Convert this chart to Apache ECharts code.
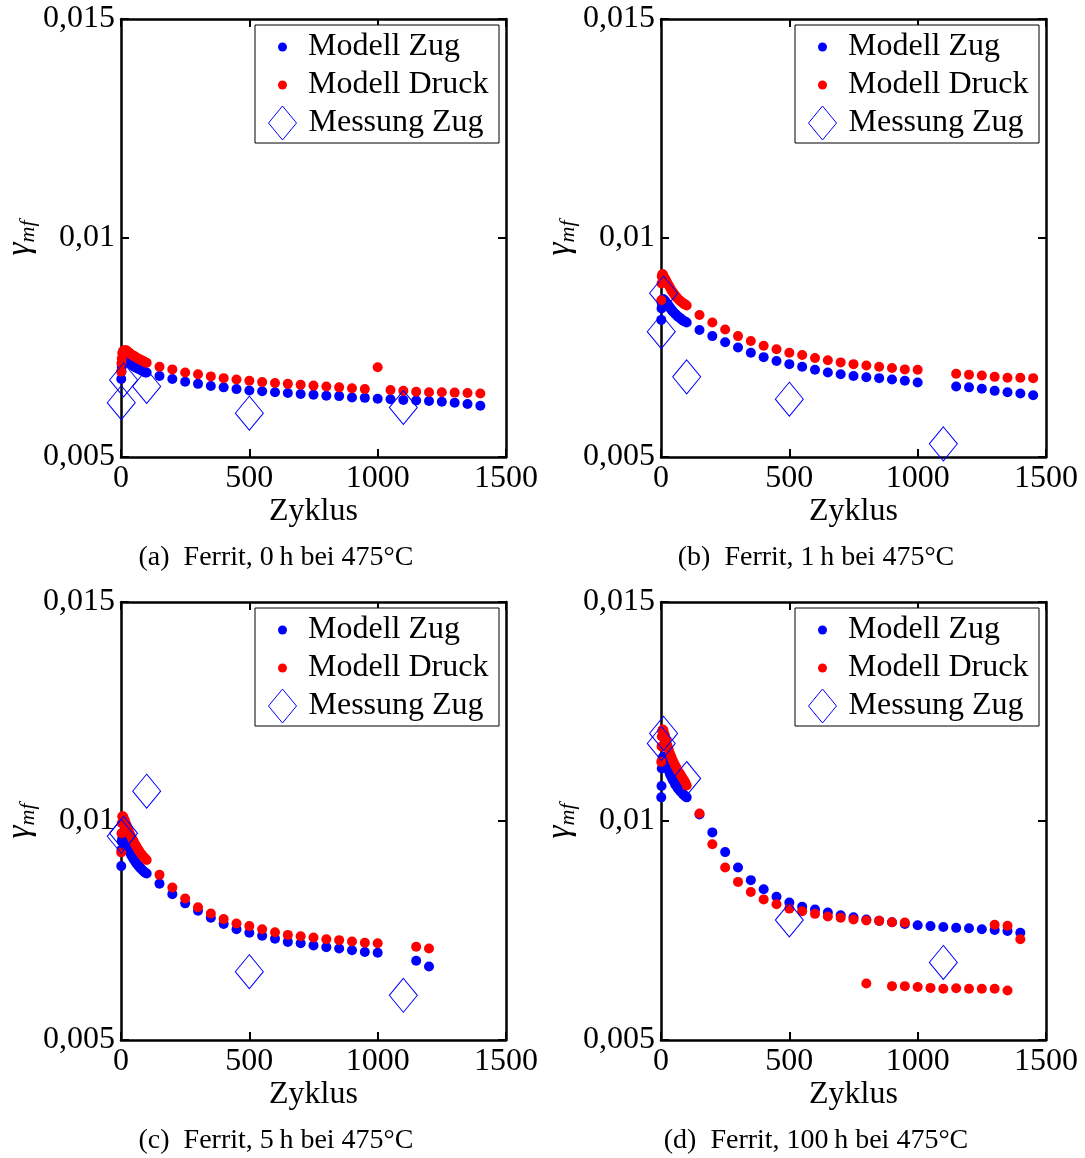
<!DOCTYPE html>
<html>
<head>
<meta charset="utf-8">
<script src="https://cdn.jsdelivr.net/npm/echarts@6.0.0/dist/echarts.min.js"></script>
<style>
  html, body { margin: 0; padding: 0; background: #fff; }
  #main { width: 1085px; height: 1158px; }
</style>
</head>
<body>
<div id="main"></div>
<script>
// ---- cycle numbers (Zyklus) ----
const earlyCycles = [1, 2, 3, 5, 7, 10, 15, 20, 25, 30, 35, 40, 45, 50, 55, 60, 65, 70, 75, 80, 85, 90, 95, 100];
const lateCycles = [150, 200, 250, 300, 350, 400, 450, 500, 550, 600, 650, 700, 750, 800, 850, 900, 950, 1000,
                    1050, 1100, 1150, 1200, 1250, 1300, 1350, 1400];
const lateCyclesB = [150, 200, 250, 300, 350, 400, 450, 500, 550, 600, 650, 700, 750, 800, 850, 900, 950, 1000,
                     1150, 1200, 1250, 1300, 1350, 1400, 1450];
const lateCyclesC = [150, 200, 250, 300, 350, 400, 450, 500, 550, 600, 650, 700, 750, 800, 850, 900, 950, 1000,
                     1150, 1200];
const messCycles = [1, 10, 100, 500, 1100];

// ---- (a) Ferrit, 0 h ----
const zugEarlyA = [0.00678, 0.00695, 0.00706, 0.00715, 0.00718, 0.00721, 0.00721, 0.00721, 0.00718, 0.00716, 0.00714, 0.00712,
                   0.00709, 0.00707, 0.00705, 0.00704, 0.00702, 0.00701, 0.00699, 0.00698, 0.00696, 0.00695, 0.00693, 0.00693];
const zugLateA = [0.00685, 0.00678, 0.00672, 0.00667, 0.00662, 0.00659, 0.00655, 0.00652, 0.00650, 0.00648, 0.00646, 0.00644, 0.00642,
                  0.00640, 0.00639, 0.00636, 0.00635, 0.00633, 0.00632, 0.00630, 0.00629, 0.00628, 0.00626, 0.00624, 0.00621, 0.00617];
const druckEarlyA = [0.00695, 0.00714, 0.00725, 0.00737, 0.00740, 0.00743, 0.00744, 0.00744, 0.00741, 0.00739, 0.00737, 0.00734,
                     0.00732, 0.00731, 0.00729, 0.00727, 0.00725, 0.00724, 0.00722, 0.00721, 0.00719, 0.00718, 0.00716, 0.00715];
const druckLateA = [0.00706, 0.00700, 0.00693, 0.00689, 0.00684, 0.00680, 0.00677, 0.00674, 0.00671, 0.00669, 0.00667, 0.00665, 0.00663,
                    0.00661, 0.00659, 0.00657, 0.00655, 0.00705, 0.00653, 0.00651, 0.00649, 0.00648, 0.00648, 0.00647, 0.00646, 0.00645];
const messA = [0.00624, 0.00676, 0.00661, 0.00600, 0.00613];

// ---- (b) Ferrit, 1 h ----
const zugEarlyB = [0.00813, 0.00839, 0.00851, 0.00858, 0.00860, 0.00860, 0.00857, 0.00853, 0.00849, 0.00845, 0.00841, 0.00837,
                   0.00833, 0.00830, 0.00827, 0.00824, 0.00821, 0.00819, 0.00817, 0.00814, 0.00812, 0.00810, 0.00809, 0.00807];
const zugLateB = [0.00790, 0.00776, 0.00762, 0.00750, 0.00738, 0.00728, 0.00719, 0.00712, 0.00706, 0.00699, 0.00693, 0.00689, 0.00685,
                  0.00682, 0.00680, 0.00677, 0.00674, 0.00670, 0.00661, 0.00659, 0.00656, 0.00651, 0.00648, 0.00645, 0.00641];
const druckEarlyB = [0.00858, 0.00896, 0.00912, 0.00917, 0.00917, 0.00913, 0.00908, 0.00903, 0.00897, 0.00892, 0.00887, 0.00881,
                     0.00877, 0.00873, 0.00869, 0.00865, 0.00862, 0.00859, 0.00856, 0.00854, 0.00852, 0.00849, 0.00848, 0.00846];
const druckLateB = [0.00824, 0.00807, 0.00791, 0.00776, 0.00765, 0.00754, 0.00746, 0.00738, 0.00733, 0.00726, 0.00721, 0.00716, 0.00712,
                    0.00709, 0.00706, 0.00703, 0.00700, 0.00699, 0.00690, 0.00688, 0.00686, 0.00683, 0.00681, 0.00681, 0.00680];
const messB = [0.00786, 0.00874, 0.00683, 0.00632, 0.00530];

// ---- (c) Ferrit, 5 h ----
const zugEarlyC = [0.00897, 0.00934, 0.00953, 0.00960, 0.00962, 0.00960, 0.00954, 0.00947, 0.00941, 0.00934, 0.00928, 0.00922,
                   0.00917, 0.00912, 0.00908, 0.00903, 0.00900, 0.00896, 0.00893, 0.00890, 0.00887, 0.00884, 0.00882, 0.00880];
const zugLateC = [0.00857, 0.00833, 0.00812, 0.00795, 0.00779, 0.00765, 0.00753, 0.00745, 0.00738, 0.00731, 0.00724, 0.00721, 0.00716,
                  0.00712, 0.00709, 0.00705, 0.00701, 0.00699, 0.00681, 0.00668];
const druckEarlyC = [0.00928, 0.00972, 0.00995, 0.01010, 0.01011, 0.01008, 0.01001, 0.00993, 0.00986, 0.00978, 0.00970, 0.00964,
                     0.00958, 0.00953, 0.00947, 0.00942, 0.00937, 0.00932, 0.00928, 0.00924, 0.00920, 0.00917, 0.00914, 0.00911];
const druckLateC = [0.00877, 0.00848, 0.00823, 0.00803, 0.00789, 0.00776, 0.00766, 0.00760, 0.00753, 0.00746, 0.00740, 0.00737, 0.00734,
                    0.00730, 0.00728, 0.00725, 0.00722, 0.00721, 0.00713, 0.00709];
const messC = [0.00965, 0.00972, 0.01068, 0.00656, 0.00602];

// ---- (d) Ferrit, 100 h ----
const zugEarlyD = [0.01054, 0.01080, 0.01120, 0.01139, 0.01145, 0.01147, 0.01141, 0.01132, 0.01123, 0.01115, 0.01107, 0.01101,
                   0.01095, 0.01090, 0.01084, 0.01080, 0.01075, 0.01072, 0.01068, 0.01065, 0.01062, 0.01059, 0.01056, 0.01054];
const zugLateD = [0.01015, 0.00974, 0.00929, 0.00894, 0.00865, 0.00844, 0.00827, 0.00814, 0.00804, 0.00798, 0.00791, 0.00785, 0.00780,
                  0.00775, 0.00772, 0.00769, 0.00765, 0.00762, 0.00760, 0.00758, 0.00756, 0.00755, 0.00753, 0.00751, 0.00749, 0.00745];
const druckEarlyD = [0.01135, 0.01170, 0.01193, 0.01206, 0.01209, 0.01206, 0.01196, 0.01185, 0.01173, 0.01164, 0.01154, 0.01147,
                     0.01139, 0.01133, 0.01127, 0.01122, 0.01116, 0.01111, 0.01107, 0.01102, 0.01097, 0.01093, 0.01088, 0.01081];
const druckUpperCyclesD = [150, 200, 250, 300, 350, 400, 450, 500, 550, 600, 650, 700, 750, 800, 850, 900, 950, 1300, 1350, 1400];
const druckUpperD = [0.01017, 0.00947, 0.00894, 0.00861, 0.00838, 0.00821, 0.00810, 0.00800, 0.00794, 0.00788, 0.00782, 0.00779,
                     0.00775, 0.00773, 0.00772, 0.00769, 0.00768, 0.00763, 0.00761, 0.00730];
const druckLowerCyclesD = [800, 900, 950, 1000, 1050, 1100, 1150, 1200, 1250, 1300, 1350];
const druckLowerD = [0.00629, 0.00623, 0.00623, 0.00621, 0.00619, 0.00617, 0.00618, 0.00617, 0.00617, 0.00617, 0.00613];
const messD = [0.01177, 0.01200, 0.01097, 0.00774, 0.00677];

// ---- axes and text ----
const xTicks = [0, 500, 1000, 1500];
const xTickLabels = ['0', '500', '1000', '1500'];
const yTicks = [0.005, 0.01, 0.015];
const yTickLabels = ['0,005', '0,01', '0,015'];
const captions = [
  '(a)\u2002Ferrit, 0\u2009h bei 475°C',
  '(b)\u2002Ferrit, 1\u2009h bei 475°C',
  '(c)\u2002Ferrit, 5\u2009h bei 475°C',
  '(d)\u2002Ferrit, 100\u2009h bei 475°C'
];

const FONT = '"Liberation Serif", "Times New Roman", serif';
const BLUE = '#0000ff';
const RED = '#ff0000';

function pairs(xs, ys) { return xs.map((x, i) => [x, ys[i]]); }

const panelData = [
  {
    zug: pairs(earlyCycles.concat(lateCycles), zugEarlyA.concat(zugLateA)),
    druck: pairs(earlyCycles.concat(lateCycles), druckEarlyA.concat(druckLateA)),
    mess: pairs(messCycles, messA)
  },
  {
    zug: pairs(earlyCycles.concat(lateCyclesB), zugEarlyB.concat(zugLateB)),
    druck: pairs(earlyCycles.concat(lateCyclesB), druckEarlyB.concat(druckLateB)),
    mess: pairs(messCycles, messB)
  },
  {
    zug: pairs(earlyCycles.concat(lateCyclesC), zugEarlyC.concat(zugLateC)),
    druck: pairs(earlyCycles.concat(lateCyclesC), druckEarlyC.concat(druckLateC)),
    mess: pairs(messCycles, messC)
  },
  {
    zug: pairs(earlyCycles.concat(lateCycles), zugEarlyD.concat(zugLateD)),
    druck: pairs(earlyCycles, druckEarlyD)
      .concat(pairs(druckUpperCyclesD, druckUpperD))
      .concat(pairs(druckLowerCyclesD, druckLowerD)),
    mess: pairs(messCycles, messD)
  }
];

// panel placement on the page
const layout = [
  { left: 121, top: 19 },
  { left: 661, top: 19 },
  { left: 121, top: 602 },
  { left: 661, top: 602 }
];
const PW = 385, PH = 438;

function labelFor(ticks, labels, v) {
  const i = ticks.findIndex(t => Math.abs(t - v) < 1e-9);
  return i >= 0 ? labels[i] : '';
}

const grids = [], xAxes = [], yAxes = [], series = [], legends = [], graphics = [];
const frameLine = { show: true, onZero: false, lineStyle: { color: '#000', width: 2.5 } };
const innerTick = { show: true, inside: true, length: 8, lineStyle: { color: '#000', width: 2 } };

layout.forEach((p, i) => {
  grids.push({ left: p.left, top: p.top, width: PW, height: PH, outerBoundsMode: 'none', containLabel: false });

  const xBase = {
    gridIndex: i, type: 'value', min: xTicks[0], max: xTicks[xTicks.length - 1], interval: 500,
    axisLine: frameLine, axisTick: innerTick, splitLine: { show: false }
  };
  xAxes.push(Object.assign({}, xBase, {
    position: 'bottom',
    axisLabel: {
      margin: 6, color: '#000', fontFamily: FONT, fontSize: 32,
      formatter: v => labelFor(xTicks, xTickLabels, v)
    },
    name: 'Zyklus', nameLocation: 'middle', nameGap: 34,
    nameTextStyle: { color: '#000', fontFamily: FONT, fontSize: 32 }
  }));
  xAxes.push(Object.assign({}, xBase, { position: 'top', axisLabel: { show: false } }));

  const yBase = {
    gridIndex: i, type: 'value', min: yTicks[0], max: yTicks[yTicks.length - 1], interval: 0.005,
    axisLine: frameLine, axisTick: innerTick, splitLine: { show: false }
  };
  yAxes.push(Object.assign({}, yBase, {
    position: 'left',
    axisLabel: {
      margin: 6, color: '#000', fontFamily: FONT, fontSize: 32,
      formatter: v => labelFor(yTicks, yTickLabels, v)
    },
    name: '{g|γ}{s|mf}', nameLocation: 'middle', nameGap: 80, nameRotate: 90,
    nameTextStyle: {
      color: '#000',
      rich: {
        g: { fontFamily: FONT, fontStyle: 'italic', fontSize: 33, lineHeight: 38, color: '#000' },
        s: { fontFamily: FONT, fontStyle: 'italic', fontSize: 22, lineHeight: 22, verticalAlign: 'bottom', color: '#000' }
      }
    }
  }));
  yAxes.push(Object.assign({}, yBase, { position: 'right', axisLabel: { show: false } }));

  const d = panelData[i];
  series.push({
    type: 'scatter', name: 'Modell Zug', xAxisIndex: 2 * i, yAxisIndex: 2 * i,
    data: d.zug, symbol: 'circle', symbolSize: 10, itemStyle: { color: BLUE, opacity: 1 }, z: 2, silent: true
  });
  series.push({
    type: 'scatter', name: 'Modell Druck', xAxisIndex: 2 * i, yAxisIndex: 2 * i,
    data: d.druck, symbol: 'circle', symbolSize: 10, itemStyle: { color: RED, opacity: 1 }, z: 3, silent: true
  });
  series.push({
    type: 'scatter', name: 'Messung Zug', xAxisIndex: 2 * i, yAxisIndex: 2 * i,
    data: d.mess, symbol: 'diamond', symbolSize: [28, 34],
    itemStyle: { color: 'rgba(0,0,0,0)', borderColor: BLUE, borderWidth: 1, opacity: 1 }, z: 4, silent: true
  });

  // legend box in the upper right corner of each panel
  const lx = p.left + PW - 251, ly = p.top + 6;
  graphics.push({
    type: 'rect', z: 9,
    shape: { x: lx, y: ly, width: 244, height: 118 },
    style: { fill: '#fff', stroke: '#000', lineWidth: 1 }
  });
  const legendText = { color: '#000', fontFamily: FONT, fontSize: 32, lineHeight: 38 };
  legends.push({
    data: ['Modell Zug', 'Modell Druck'], orient: 'vertical', left: lx + 23, top: ly + 3,
    itemWidth: 9, itemHeight: 9, itemGap: 0, padding: 0, selectedMode: false, z: 10,
    textStyle: Object.assign({}, legendText, { padding: [0, 0, 0, 16] })
  });
  legends.push({
    data: ['Messung Zug'], orient: 'vertical', left: lx + 13, top: ly + 79,
    itemWidth: 28, itemHeight: 34, itemGap: 0, padding: 0, selectedMode: false, z: 10,
    itemStyle: { borderWidth: 1 },
    textStyle: Object.assign({}, legendText, { padding: [0, 0, 0, 7] })
  });

  // sub-figure caption
  graphics.push({
    type: 'text', z: 9,
    x: p.left + 155, y: p.top + PH + 101,
    style: { text: captions[i], font: '28px ' + FONT, fill: '#000', textAlign: 'center', textVerticalAlign: 'middle' }
  });
});

const chart = echarts.init(document.getElementById('main'), null, { renderer: 'canvas' });
chart.setOption({
  backgroundColor: '#fff',
  animation: false,
  grid: grids,
  xAxis: xAxes,
  yAxis: yAxes,
  legend: legends,
  graphic: { elements: graphics },
  series: series
});
</script>
</body>
</html>
